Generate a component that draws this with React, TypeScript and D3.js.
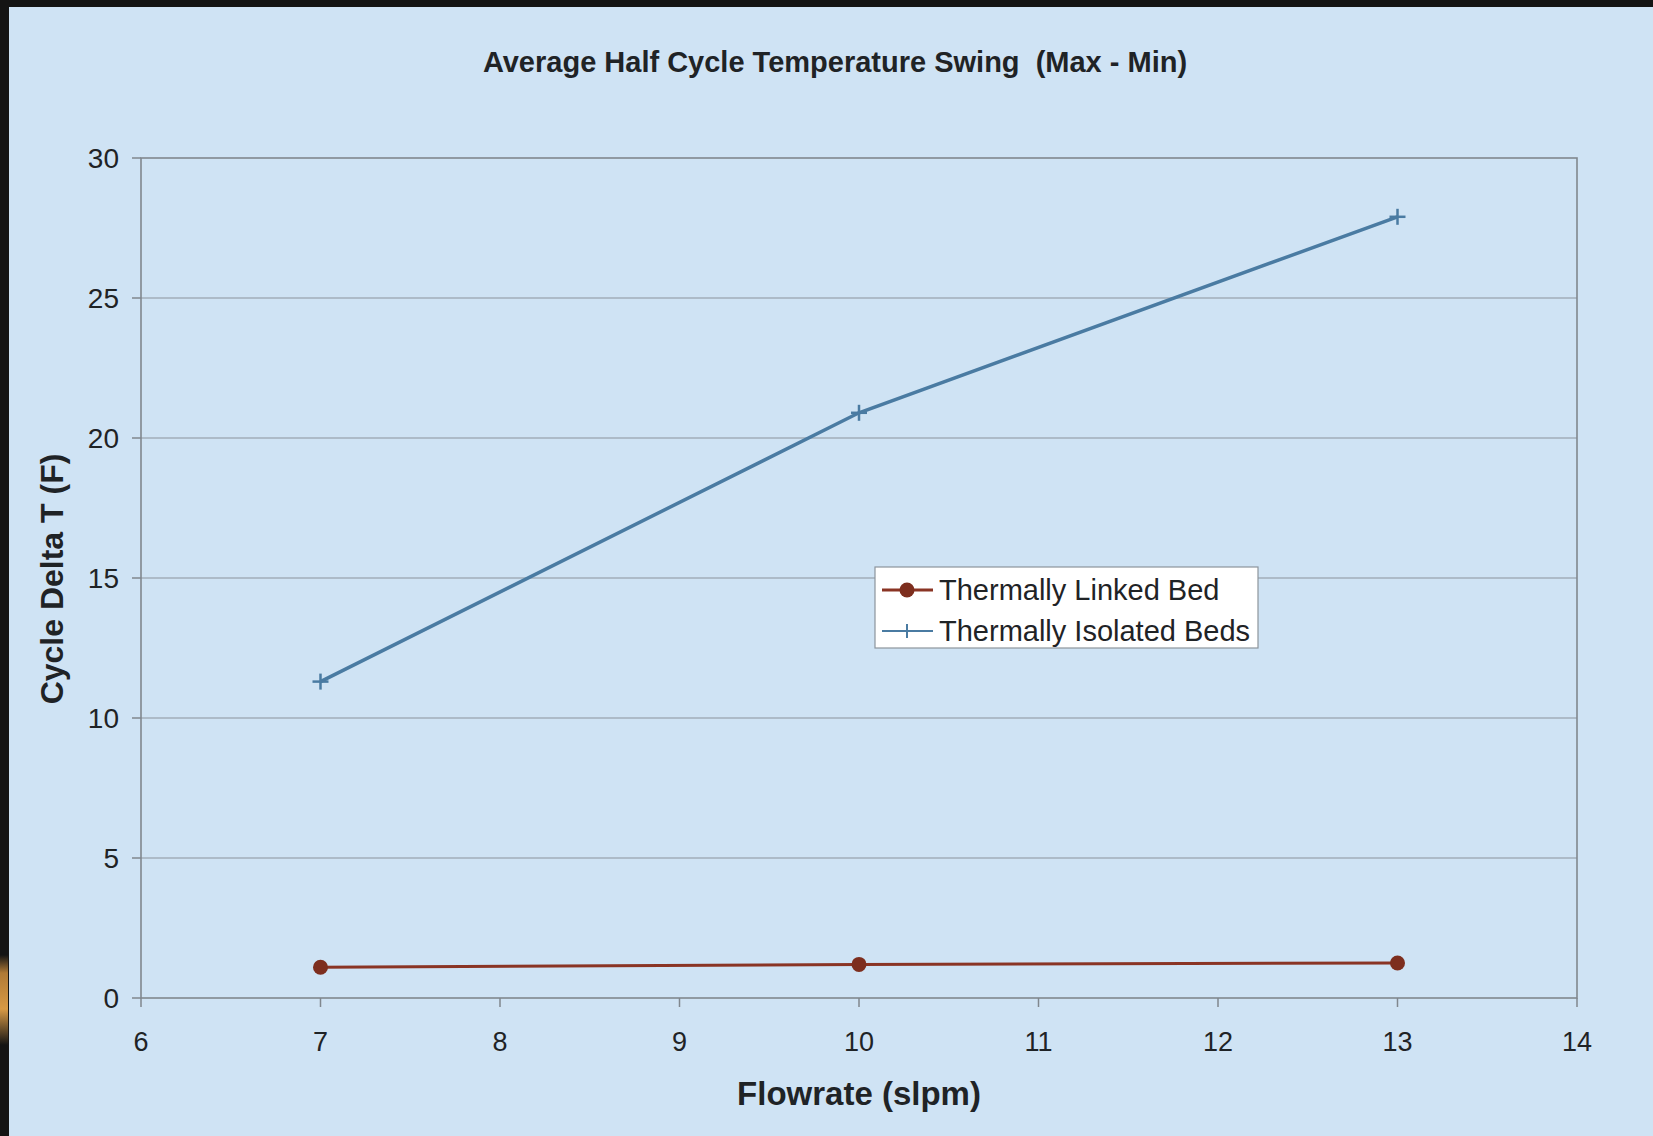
import React from "react";
import * as d3 from "d3";

const flowrates = [7, 10, 13];
const linkedValues = [1.1, 1.2, 1.25];
const isolatedValues = [11.3, 20.9, 27.9];
const xTicks = [6, 7, 8, 9, 10, 11, 12, 13, 14];
const yTicks = [0, 5, 10, 15, 20, 25, 30];
const seriesNames = ["Thermally Linked Bed", "Thermally Isolated Beds"];
const chartTitle = "Average Half Cycle Temperature Swing  (Max - Min)";
const xTitle = "Flowrate (slpm)";
const yTitle = "Cycle Delta T (F)";

const W = 1653;
const H = 1136;
const plot = { left: 141, right: 1577, top: 158, bottom: 998 };
const font = "'Liberation Sans', Arial, sans-serif";
const linkedColor = "#8a3424";
const isolatedColor = "#4a7ba2";
const textColor = "#1f2326";

export default function App() {
  const x = d3.scaleLinear().domain([6, 14]).range([plot.left, plot.right]);
  const y = d3.scaleLinear().domain([0, 30]).range([plot.bottom, plot.top]);
  const line = d3
    .line<[number, number]>()
    .x((d) => x(d[0]))
    .y((d) => y(d[1]));
  const linkedPts: [number, number][] = flowrates.map((f, i) => [f, linkedValues[i]]);
  const isoPts: [number, number][] = flowrates.map((f, i) => [f, isolatedValues[i]]);

  const legX = 875;
  const legY = 567;
  return (
    <div style={{ position: "absolute", left: 0, top: 0 }}>
      <svg width={W} height={H} style={{ display: "block" }}>
        <defs>
          <linearGradient id="blob" x1="0" y1="0" x2="0" y2="1">
            <stop offset="0" stopColor="#141414" />
            <stop offset="0.2" stopColor="#b07a35" />
            <stop offset="0.6" stopColor="#d89a45" />
            <stop offset="1" stopColor="#141414" />
          </linearGradient>
        </defs>
        <rect x={0} y={0} width={W} height={H} fill="#cfe3f4" />
        <rect x={0} y={0} width={W} height={7} fill="#141414" />
        <rect x={0} y={0} width={9} height={H} fill="#141414" />
        <rect x={0} y={955} width={8} height={90} fill="url(#blob)" />
        <text x={835} y={72} textAnchor="middle" fontFamily={font} fontWeight="bold" fontSize={29} fill={textColor} style={{ whiteSpace: "pre" }}>
          {chartTitle}
        </text>
        {/* gridlines */}
        {yTicks.filter((t) => t > 0 && t < 30).map((t) => (
          <line key={"g" + t} x1={plot.left} x2={plot.right} y1={y(t)} y2={y(t)} stroke="#8c949c" strokeWidth={1.2} />
        ))}
        <rect x={plot.left} y={plot.top} width={plot.right - plot.left} height={plot.bottom - plot.top} fill="none" stroke="#80878e" strokeWidth={1.6} />
        {/* y ticks */}
        {yTicks.map((t) => (
          <g key={"y" + t}>
            <line x1={plot.left - 9} x2={plot.left} y1={y(t)} y2={y(t)} stroke="#80878e" strokeWidth={1.5} />
            <text x={119} y={y(t) + 10} textAnchor="end" fontFamily={font} fontSize={28} fill={textColor}>
              {t}
            </text>
          </g>
        ))}
        {/* x ticks */}
        {xTicks.map((t) => (
          <g key={"x" + t}>
            <line x1={x(t)} x2={x(t)} y1={plot.bottom} y2={plot.bottom + 9} stroke="#80878e" strokeWidth={1.5} />
            <text x={x(t)} y={1051} textAnchor="middle" fontFamily={font} fontSize={27} fill={textColor}>
              {t}
            </text>
          </g>
        ))}
        <text x={859} y={1105} textAnchor="middle" fontFamily={font} fontWeight="bold" fontSize={33} fill={textColor}>
          {xTitle}
        </text>
        <text
          transform={`translate(63,${579}) rotate(-90)`}
          textAnchor="middle"
          fontFamily={font}
          fontWeight="bold"
          fontSize={32}
          fill={textColor}
        >
          {yTitle}
        </text>
        {/* series */}
        <path d={line(isoPts) || ""} fill="none" stroke={isolatedColor} strokeWidth={3.5} />
        {isoPts.map((p, i) => (
          <g key={"ip" + i} stroke={isolatedColor} strokeWidth={2.5}>
            <line x1={x(p[0]) - 8} x2={x(p[0]) + 8} y1={y(p[1])} y2={y(p[1])} />
            <line x1={x(p[0])} x2={x(p[0])} y1={y(p[1]) - 8} y2={y(p[1]) + 8} />
          </g>
        ))}
        <path d={line(linkedPts) || ""} fill="none" stroke={linkedColor} strokeWidth={3} />
        {linkedPts.map((p, i) => (
          <circle key={"lp" + i} cx={x(p[0])} cy={y(p[1])} r={7.5} fill="#7d2e1e" />
        ))}
        {/* legend */}
        <rect x={legX} y={legY} width={383} height={81} fill="#ffffff" stroke="#8c949c" strokeWidth={1.2} />
        <line x1={882} x2={933} y1={590} y2={590} stroke={linkedColor} strokeWidth={3} />
        <circle cx={907} cy={590} r={7.5} fill="#7d2e1e" />
        <text x={939} y={600} fontFamily={font} fontSize={29} fill={textColor}>
          {seriesNames[0]}
        </text>
        <line x1={882} x2={933} y1={631} y2={631} stroke={isolatedColor} strokeWidth={2} />
        <line x1={907} x2={907} y1={624} y2={638} stroke={isolatedColor} strokeWidth={2} />
        <text x={939} y={641} fontFamily={font} fontSize={29} fill={textColor}>
          {seriesNames[1]}
        </text>
      </svg>
    </div>
  );
}
